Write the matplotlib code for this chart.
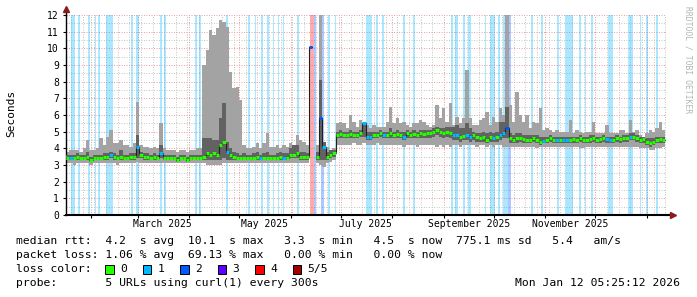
import numpy as np
import pandas as pd
import matplotlib
matplotlib.use("Agg")
import matplotlib.pyplot as plt
import matplotlib.dates as mdates
import matplotlib.transforms as mtransforms
from matplotlib.patches import Rectangle

nan = np.nan

# 2-day bins starting 2025-01-17, 180 bins (360 days)
bin_start = "2025-01-17"
n_bins = 180

# outer smoke (min / max of the pings)
smoke_hi = [
    3.8, 3.9, 3.9, 3.9, 3.8, 4.0, 4.5, 3.9, 3.9, 4.0, 4.6, 4.2, 4.7, 5.1, 4.3, 4.3, 4.5, 4.2, 4.2, 4.1,
    4.3, 6.8, 4.2, 4.1, 4.1, 4.0, 4.1, 4.0, 5.5, 4.0, 3.9, 3.9, 3.9, 3.8, 3.9, 3.9, 3.8, 3.9, 3.9, 4.0,
    4.0, 9.0, 9.9, 11.1, 10.8, 11.2, 11.7, 11.6, 11.3, 8.6, 7.6, 7.7, 6.9, 4.2, 4.0, 4.0, 4.1, 4.3, 4.0, 4.3,
    4.9, 4.1, 4.1, 4.2, 4.0, 4.2, 4.1, 4.3, 4.1, 4.8, 4.5, 4.4, 4.2, 12.5, nan, 4.2, 12.5, 4.4, 4.1, 3.9,
    4.0, 5.5, 5.6, 5.5, 5.2, 6.0, 5.6, 5.3, 5.7, 5.5, 5.4, 5.2, 5.4, 5.3, 5.3, 5.3, 5.6, 6.5, 5.5, 5.8,
    5.5, 5.6, 5.4, 5.3, 5.5, 5.5, 5.7, 5.6, 5.4, 5.3, 5.4, 6.6, 5.8, 6.4, 5.6, 6.7, 5.4, 5.9, 5.5, 5.8,
    8.7, 5.8, 5.4, 5.4, 5.7, 5.8, 6.2, 5.4, 5.9, 5.6, 6.4, 6.0, 12.5, 6.6, 5.6, 7.4, 6.0, 5.6, 6.0, 5.2,
    5.6, 5.5, 6.4, 5.1, 5.2, 5.1, 5.0, 5.1, 5.0, 5.0, 5.0, 5.7, 4.9, 5.1, 5.0, 4.9, 5.0, 5.0, 5.6, 4.9,
    4.9, 4.9, 5.4, 4.9, 4.9, 4.9, 5.1, 5.1, 4.9, 5.7, 5.0, 5.1, 4.8, 4.7, 4.9, 5.1, 5.0, 5.2, 5.6, 5.1,
]
smoke_lo = [
    3.1, 3.1, 3.0, 3.1, 3.1, 3.1, 3.1, 3.0, 3.1, 3.1, 3.1, 3.1, 3.1, 3.1, 3.1, 3.0, 3.1, 3.1, 3.1, 3.1,
    3.1, 3.2, 3.1, 3.1, 3.1, 3.1, 3.1, 3.1, 3.1, 3.1, 3.1, 3.1, 3.1, 3.1, 3.1, 3.1, 3.1, 3.1, 3.1, 3.1,
    3.1, 3.1, 3.0, 3.0, 3.0, 3.0, 3.0, 3.1, 3.1, 3.1, 3.1, 3.1, 3.1, 3.1, 3.1, 3.1, 3.1, 3.1, 3.1, 3.1,
    3.1, 3.1, 3.1, 3.1, 3.1, 3.1, 3.1, 3.1, 3.1, 3.1, 3.1, 3.1, 3.1, 3.2, nan, 3.1, 3.0, 2.9, 3.1, 3.2,
    3.3, 4.2, 4.2, 4.2, 4.2, 4.2, 4.3, 4.2, 4.2, 4.3, 4.2, 4.2, 4.2, 4.3, 4.2, 4.2, 4.2, 4.2, 4.2, 4.2,
    4.2, 4.1, 4.2, 4.2, 4.2, 4.1, 4.2, 4.2, 4.2, 4.2, 4.2, 4.1, 4.2, 4.1, 4.2, 4.1, 4.2, 4.2, 4.1, 4.2,
    4.2, 4.2, 4.2, 4.1, 4.2, 4.2, 4.1, 4.2, 4.1, 4.2, 4.2, 4.1, 4.1, 4.1, 4.1, 4.1, 4.1, 4.1, 4.1, 4.1,
    4.1, 4.0, 4.1, 4.1, 4.1, 4.1, 4.1, 4.1, 4.1, 4.1, 4.1, 4.1, 4.1, 4.1, 4.0, 4.0, 4.1, 4.1, 4.1, 4.1,
    4.1, 4.1, 4.1, 4.1, 4.1, 4.1, 4.1, 4.1, 4.1, 4.1, 4.1, 4.1, 4.0, 4.0, 4.0, 3.9, 3.9, 4.0, 4.0, 4.1,
]
# inner (darker) smoke band
dark_hi = [
    3.6, 3.6, 3.6, 3.7, 3.6, 3.6, 3.8, 3.5, 3.6, 3.6, 3.6, 3.7, 3.7, 3.8, 3.7, 3.6, 3.9, 3.6, 3.6, 3.7,
    3.7, 4.8, 3.8, 3.7, 3.7, 3.6, 3.7, 3.6, 4.2, 3.6, 3.6, 3.6, 3.6, 3.5, 3.6, 3.6, 3.5, 3.6, 3.6, 3.6,
    3.6, 4.6, 4.6, 4.6, 4.5, 4.5, 5.8, 6.7, 4.4, 4.0, 3.8, 3.7, 3.6, 3.7, 3.6, 3.6, 3.7, 3.8, 3.6, 3.7,
    3.8, 3.6, 3.6, 3.7, 3.8, 3.7, 3.7, 4.0, 4.2, 4.2, 3.8, 3.8, 3.7, 10.1, nan, 3.8, 8.1, 4.4, 3.8, 3.9,
    3.9, 5.0, 5.1, 5.0, 5.0, 5.1, 5.0, 5.0, 5.1, 5.4, 5.0, 5.0, 5.0, 5.0, 5.1, 5.0, 5.0, 5.2, 5.0, 5.1,
    5.0, 5.0, 5.1, 5.0, 5.1, 5.0, 5.1, 5.1, 5.1, 5.1, 5.2, 5.3, 5.2, 5.2, 5.3, 5.3, 5.3, 5.4, 5.2, 5.2,
    5.5, 5.2, 5.0, 4.9, 4.9, 5.0, 4.9, 5.0, 4.9, 5.0, 5.6, 5.6, 6.5, 4.9, 4.8, 4.9, 4.9, 4.8, 4.8, 4.8,
    4.8, 4.8, 4.7, 4.7, 4.7, 4.8, 4.7, 4.7, 4.7, 4.7, 4.7, 4.7, 4.7, 4.7, 4.8, 4.7, 4.7, 4.8, 4.8, 4.7,
    4.7, 4.8, 4.7, 4.7, 4.7, 4.8, 4.7, 4.8, 4.8, 4.9, 4.9, 4.8, 4.7, 4.7, 4.6, 4.6, 4.6, 4.7, 4.7, 4.7,
]
dark_lo = [
    3.3, 3.3, 3.3, 3.3, 3.3, 3.3, 3.3, 3.2, 3.3, 3.3, 3.3, 3.3, 3.3, 3.4, 3.3, 3.3, 3.3, 3.3, 3.3, 3.3,
    3.3, 3.4, 3.4, 3.3, 3.3, 3.3, 3.3, 3.3, 3.4, 3.3, 3.3, 3.3, 3.3, 3.2, 3.3, 3.3, 3.2, 3.3, 3.3, 3.3,
    3.3, 3.3, 3.3, 3.3, 3.3, 3.3, 3.3, 3.4, 3.3, 3.3, 3.3, 3.3, 3.3, 3.3, 3.3, 3.3, 3.3, 3.3, 3.3, 3.3,
    3.3, 3.3, 3.3, 3.3, 3.3, 3.3, 3.3, 3.4, 3.4, 3.4, 3.3, 3.3, 3.3, 3.4, nan, 3.3, 3.3, 3.3, 3.3, 3.4,
    3.5, 4.6, 4.6, 4.6, 4.6, 4.6, 4.6, 4.6, 4.7, 4.7, 4.5, 4.5, 4.6, 4.6, 4.7, 4.6, 4.6, 4.6, 4.6, 4.6,
    4.6, 4.5, 4.6, 4.6, 4.6, 4.6, 4.6, 4.6, 4.6, 4.6, 4.7, 4.8, 4.7, 4.6, 4.7, 4.6, 4.5, 4.5, 4.4, 4.5,
    4.5, 4.4, 4.5, 4.4, 4.4, 4.4, 4.3, 4.4, 4.4, 4.4, 4.5, 4.6, 4.6, 4.3, 4.3, 4.3, 4.4, 4.3, 4.3, 4.3,
    4.4, 4.3, 4.2, 4.3, 4.3, 4.4, 4.3, 4.3, 4.3, 4.3, 4.3, 4.3, 4.3, 4.3, 4.4, 4.3, 4.3, 4.3, 4.4, 4.3,
    4.3, 4.4, 4.3, 4.3, 4.3, 4.4, 4.3, 4.4, 4.4, 4.5, 4.5, 4.4, 4.3, 4.3, 4.2, 4.1, 4.2, 4.3, 4.3, 4.3,
]
median = [
    3.4, 3.4, 3.4, 3.5, 3.4, 3.4, 3.5, 3.3, 3.4, 3.4, 3.4, 3.5, 3.5, 3.6, 3.5, 3.4, 3.5, 3.4, 3.4, 3.5,
    3.5, 4.1, 3.6, 3.5, 3.5, 3.4, 3.5, 3.4, 3.7, 3.4, 3.4, 3.4, 3.4, 3.3, 3.4, 3.4, 3.3, 3.4, 3.4, 3.4,
    3.4, 3.5, 3.7, 3.6, 3.7, 3.6, 4.2, 4.4, 3.8, 3.6, 3.5, 3.4, 3.4, 3.4, 3.4, 3.4, 3.4, 3.5, 3.4, 3.4,
    3.4, 3.4, 3.4, 3.4, 3.5, 3.4, 3.4, 3.6, 3.6, 3.7, 3.5, 3.5, 3.5, 10.1, nan, 3.5, 5.8, 4.1, 3.5, 3.6,
    3.7, 4.8, 4.85, 4.8, 4.8, 4.85, 4.8, 4.8, 4.9, 5.5, 4.7, 4.7, 4.8, 4.8, 4.9, 4.8, 4.8, 4.9, 4.8, 4.85,
    4.8, 4.7, 4.9, 4.8, 4.85, 4.8, 4.9, 4.85, 4.9, 4.9, 5.0, 5.1, 5.0, 4.9, 5.0, 4.9, 4.8, 4.8, 4.7, 4.75,
    4.8, 4.7, 4.8, 4.7, 4.6, 4.7, 4.5, 4.7, 4.6, 4.7, 4.8, 4.9, 5.2, 4.6, 4.5, 4.6, 4.6, 4.55, 4.5, 4.5,
    4.6, 4.5, 4.4, 4.45, 4.5, 4.6, 4.5, 4.5, 4.5, 4.5, 4.5, 4.5, 4.55, 4.5, 4.6, 4.5, 4.5, 4.55, 4.6, 4.5,
    4.55, 4.6, 4.55, 4.5, 4.5, 4.6, 4.55, 4.6, 4.6, 4.7, 4.7, 4.6, 4.5, 4.55, 4.4, 4.35, 4.4, 4.5, 4.55, 4.5,
]
# bins whose median is drawn in a loss colour (bin index: lost pings), all others are 0
median_loss = {
    1: 1, 13: 1, 21: 1, 28: 1, 48: 1, 58: 1, 65: 1, 73: 2, 76: 2, 77: 1,
    89: 1, 90: 1, 91: 1, 95: 1, 101: 1, 116: 1, 117: 1, 120: 1, 121: 1, 128: 1,
    130: 1, 131: 1, 132: 2, 143: 1, 147: 1, 149: 1, 150: 1, 162: 1, 163: 1, 169: 1,
}

# periods with packet loss (start, end, lost pings out of 5)
loss_start = [
    "2025-01-20 00:00", "2025-01-24 05:00", "2025-01-30 05:00", "2025-02-03 10:00", "2025-02-05 12:00",
    "2025-02-10 00:00", "2025-02-25 02:00", "2025-02-28 02:00", "2025-03-14 12:00", "2025-03-16 22:00",
    "2025-04-04 12:00", "2025-04-07 05:00", "2025-04-22 22:00", "2025-05-06 10:00", "2025-05-10 14:00",
    "2025-05-14 05:00", "2025-05-17 12:00", "2025-05-21 02:00", "2025-05-24 02:00", "2025-05-27 02:00",
    "2025-06-05 02:00", "2025-06-12 14:00", "2025-06-15 00:00", "2025-06-19 05:00", "2025-06-23 12:00",
    "2025-06-27 17:00", "2025-07-16 07:00", "2025-07-22 07:00", "2025-07-25 22:00", "2025-08-07 12:00",
    "2025-08-13 12:00", "2025-09-05 10:00", "2025-09-07 19:00", "2025-09-12 14:00", "2025-09-15 14:00",
    "2025-09-25 19:00", "2025-09-28 19:00", "2025-10-03 14:00", "2025-10-06 14:00", "2025-10-09 14:00",
    "2025-10-23 10:00", "2025-10-29 12:00", "2025-11-07 19:00", "2025-11-12 22:00", "2025-11-21 07:00",
    "2025-11-24 22:00", "2025-11-28 12:00", "2025-12-08 17:00", "2025-12-20 17:00", "2025-12-27 22:00",
    "2025-12-31 14:00", "2026-01-06 14:00",
]
loss_end = [
    "2025-01-22 10:00", "2025-01-25 10:00", "2025-01-31 10:00", "2025-02-04 00:00", "2025-02-06 10:00",
    "2025-02-14 05:00", "2025-02-26 07:00", "2025-03-01 22:00", "2025-03-15 17:00", "2025-03-18 02:00",
    "2025-04-05 17:00", "2025-04-08 02:00", "2025-04-24 10:00", "2025-05-07 14:00", "2025-05-11 05:00",
    "2025-05-15 10:00", "2025-05-19 00:00", "2025-05-22 00:00", "2025-05-25 00:00", "2025-05-28 00:00",
    "2025-06-06 00:00", "2025-06-15 00:00", "2025-06-16 05:00", "2025-06-21 00:00", "2025-06-24 17:00",
    "2025-06-28 07:00", "2025-07-19 22:00", "2025-07-23 12:00", "2025-07-27 02:00", "2025-08-08 17:00",
    "2025-08-14 17:00", "2025-09-06 14:00", "2025-09-09 07:00", "2025-09-13 19:00", "2025-09-17 10:00",
    "2025-09-26 10:00", "2025-10-01 19:00", "2025-10-04 19:00", "2025-10-09 14:00", "2025-10-11 10:00",
    "2025-10-24 14:00", "2025-10-30 17:00", "2025-11-09 00:00", "2025-11-17 10:00", "2025-11-22 12:00",
    "2025-11-25 12:00", "2025-11-29 17:00", "2025-12-11 17:00", "2025-12-23 17:00", "2025-12-28 12:00",
    "2026-01-01 19:00", "2026-01-07 19:00",
]
loss_level = [
    1, 1, 1, 1, 1, 1, 1, 1, 1, 1,
    1, 1, 1, 1, 1, 1, 1, 1, 1, 1,
    1, 4, 2, 2, 1, 1, 1, 1, 1, 1,
    1, 1, 1, 1, 1, 1, 1, 1, 1, 2,
    1, 1, 1, 1, 1, 1, 1, 1, 1, 1,
    1, 1,
]

loss_colors = ["#26ff00", "#00b8ff", "#0059ff", "#5e00ff", "#ff0000", "#a00000"]
loss_labels = ["0", "1", "2", "3", "4", "5/5"]

month_labels = ["March 2025", "May 2025", "July 2025", "September 2025", "November 2025"]
month_label_dates = ["2025-03-16", "2025-05-16", "2025-07-16", "2025-09-16", "2025-11-16"]

legend_lines = [
    "median rtt:  4.2  s avg  10.1  s max   3.3  s min   4.5  s now  775.1 ms sd   5.4   am/s",
    "packet loss: 1.06 % avg  69.13 % max   0.00 % min   0.00 % now",
    "loss color:",
    "probe:       5 URLs using curl(1) every 300s",
]
stamp = "Mon Jan 12 05:25:12 2026"

MONO = "DejaVu Sans Mono"
W, H = 697, 297

edges = mdates.date2num(pd.date_range(bin_start, periods=n_bins + 1, freq="2D"))
ls = mdates.date2num(pd.to_datetime(loss_start))
le = mdates.date2num(pd.to_datetime(loss_end))
med_colors = [loss_colors[median_loss.get(i, 0)] for i in range(n_bins)]


def ext(a):
    a = np.asarray(a, dtype=float)
    return np.append(a, a[-1])


fig = plt.figure(figsize=(W / 100, H / 100), dpi=100)
fig.patch.set_facecolor("white")
ax = fig.add_axes([66 / W, (H - 215) / H, 600 / W, 200 / H])

ax.set_xlim(edges[0], mdates.date2num(pd.Timestamp("2026-01-12 12:00")))
ax.set_ylim(0, 12)

# grid
ax.xaxis.set_major_locator(mdates.MonthLocator())
ax.xaxis.set_minor_locator(mdates.WeekdayLocator(byweekday=mdates.MO))
ax.yaxis.set_major_locator(plt.MultipleLocator(1))
ax.yaxis.set_minor_locator(plt.MultipleLocator(0.5))
ax.set_axisbelow(True)
ax.grid(which="minor", color="#c8c8c8", lw=0.72, ls=(0, (1, 1.5)))
ax.grid(which="major", color="#f0a0a0", lw=0.72, ls=(0, (1, 1.5)))
ax.xaxis.set_major_formatter(plt.NullFormatter())
ax.tick_params(axis="x", which="major", length=2, width=0.8, direction="out")
ax.tick_params(axis="x", which="minor", length=0)
ax.tick_params(axis="y", which="major", length=2, width=0.8, direction="out", pad=3,
               labelsize=7, labelfontfamily=MONO)
ax.tick_params(axis="y", which="minor", length=0)

# loss bars (full height)
for s, e, lv in zip(ls, le, loss_level):
    ax.axvspan(s, e, color=loss_colors[lv], alpha=0.33, lw=0, zorder=1)

# smoke
ax.fill_between(edges, ext(smoke_lo), ext(smoke_hi), step="post", color="#a3a3a3", lw=0, zorder=2)
ax.fill_between(edges, ext(dark_lo), ext(dark_hi), step="post", color="#626262", lw=0, zorder=3)

# median
ax.step(edges, ext(median), where="post", color="#202020", lw=0.8, zorder=4)
ax.hlines(median, edges[:-1], edges[1:], colors=med_colors, lw=2.2, zorder=5)

# axes lines and arrows
for side in ("top", "right"):
    ax.spines[side].set_visible(False)
ax.spines["left"].set_linewidth(1.0)
ax.spines["bottom"].set_linewidth(1.5)
ax.plot([0, 0], [1, 1.025], color="black", lw=1.0, transform=ax.transAxes, clip_on=False)
ax.plot([1, 1.008], [0, 0], color="black", lw=1.5, transform=ax.transAxes, clip_on=False)
ax.plot([0], [1.03], marker="^", ms=4, color="#8b1a1a", transform=ax.transAxes, clip_on=False)
ax.plot([1.012], [0], marker=">", ms=4, color="#8b1a1a", transform=ax.transAxes, clip_on=False)

# x labels (centered in the month)
tr = mtransforms.blended_transform_factory(ax.transData, ax.transAxes)
for d, lab in zip(month_label_dates, month_labels):
    ax.text(mdates.date2num(pd.Timestamp(d)), -0.045, lab, transform=tr, ha="center",
            va="center", fontsize=7, family=MONO)

fig.text(11 / W, 1 - 113 / H, "Seconds", rotation=90, ha="center", va="center",
         fontsize=8, family=MONO)
fig.text(688 / W, 1 - 6 / H, "RRDTOOL / TOBI OETIKER", rotation=270, ha="center", va="top",
         fontsize=5.8, family=MONO, color="#b4b4b4")

# legend
rows = [241, 255, 269, 283]
for txt, y in zip(legend_lines, rows):
    fig.text(16 / W, 1 - y / H, txt, ha="left", va="center", fontsize=8.2, family=MONO)
fig.text(680 / W, 1 - rows[3] / H, stamp, ha="right", va="center", fontsize=8.2, family=MONO)

for k, (c, lab) in enumerate(zip(loss_colors, loss_labels)):
    bx = 105 + 37.5 * k
    fig.patches.append(Rectangle((bx / W, 1 - (rows[2] + 4.5) / H), 8.5 / W, 8.5 / H,
                                 transform=fig.transFigure, facecolor=c, edgecolor="black",
                                 lw=0.7))
    fig.text((bx + 15) / W, 1 - rows[2] / H, lab, ha="left", va="center", fontsize=8.2,
             family=MONO)

fig.savefig("out.png", dpi=100, facecolor="white")
